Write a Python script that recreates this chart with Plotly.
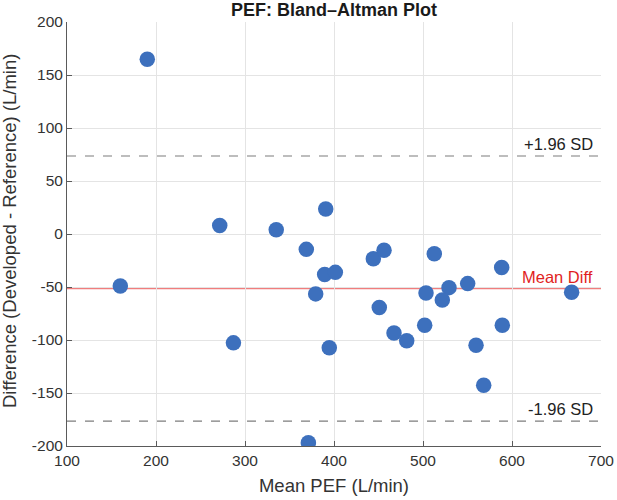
import plotly.graph_objects as go

mean_pef = [190.2, 271.6, 335.1, 390.7, 368.9, 389.5, 401.5, 159.9, 379.4, 287.0,
            394.7, 371.2, 444.2, 456.2, 512.7, 588.4, 550.2, 529.2, 503.4, 521.7,
            667.0, 450.9, 467.4, 481.7, 501.9, 589.1, 559.6, 568.2]
diff_pef = [164.9, 8.1, 4.0, 23.5, -14.5, -38.3, -36.2, -49.0, -56.5, -102.7,
            -107.4, -196.9, -23.3, -15.4, -18.6, -31.7, -46.8, -50.6, -55.6, -62.2,
            -55.0, -69.4, -93.3, -100.8, -86.1, -86.1, -104.9, -142.6]

mean_diff = -51.5
upper_loa = 73.6
lower_loa = -176.6

x_ticks = [100, 200, 300, 400, 500, 600, 700]
y_ticks = [-200, -150, -100, -50, 0, 50, 100, 150, 200]
x_ticktext = [str(v) for v in x_ticks]
y_ticktext = [str(v) for v in y_ticks]

font_family = "Liberation Sans, Arial, sans-serif"
text_color = "#333333"

fig = go.Figure()
fig.add_trace(go.Scatter(
    x=mean_pef, y=diff_pef, mode="markers",
    marker=dict(size=15.5, color="rgb(61,112,189)", line=dict(width=0)),
    showlegend=False, hoverinfo="x+y"))

# reference lines
fig.add_shape(type="line", xref="paper", x0=0, x1=1, yref="y", y0=mean_diff, y1=mean_diff,
              line=dict(color="rgb(240,125,125)", width=1.2), layer="below")
for v in (upper_loa, lower_loa):
    fig.add_shape(type="line", xref="paper", x0=0, x1=1, yref="y", y0=v, y1=v,
                  line=dict(color="rgb(125,125,125)", width=1.2, dash="dash"), layer="below")

def label(y, text, color):
    fig.add_annotation(xref="paper", x=(595 - 67) / (601 - 67), xanchor="right",
                       y=y, yref="y", yanchor="bottom", yshift=1, showarrow=False,
                       text=text, font=dict(family=font_family, size=16.5, color=color))

label(upper_loa, "+1.96 SD", "#222222")
label(mean_diff, "Mean Diff", "rgb(225,30,30)")
label(lower_loa, "-1.96 SD", "#222222")

# y-axis title placed as rotated text
fig.add_annotation(xref="paper", x=(9 - 67) / (601 - 67), xanchor="center",
                   yref="paper", y=(446 - 231) / (446 - 22), yanchor="middle",
                   textangle=-90, showarrow=False,
                   text="Difference (Developed - Reference) (L/min)",
                   font=dict(family=font_family, size=18.5, color=text_color))

axis_common = dict(
    showgrid=True, gridcolor="rgb(228,228,228)", gridwidth=1,
    showline=True, linecolor="rgb(90,90,90)", linewidth=1,
    ticks="inside", ticklen=5, tickcolor="rgb(90,90,90)",
    tickfont=dict(family=font_family, size=15.5, color=text_color),
    zeroline=False, mirror=False, tickmode="array", automargin=False,
)

fig.update_layout(
    width=617, height=500,
    margin=dict(l=67, r=16, t=22, b=54),
    paper_bgcolor="white", plot_bgcolor="white",
    title=dict(text="<b>PEF: Bland\u2013Altman Plot</b>", x=(67 + 601) / 2 / 617, xanchor="center",
               y=1 - 10 / 500, yanchor="middle", yref="container", automargin=False,
               font=dict(family=font_family, size=18, color="#1a1a1a")),
    xaxis=dict(range=[100, 700], tickvals=x_ticks, ticktext=x_ticktext,
               title=dict(text="Mean PEF (L/min)", font=dict(family=font_family, size=18.5, color=text_color), standoff=11),
               **axis_common),
    yaxis=dict(range=[-200, 200], tickvals=y_ticks, ticktext=y_ticktext,
               **axis_common),
)

fig.write_html("out.html")
